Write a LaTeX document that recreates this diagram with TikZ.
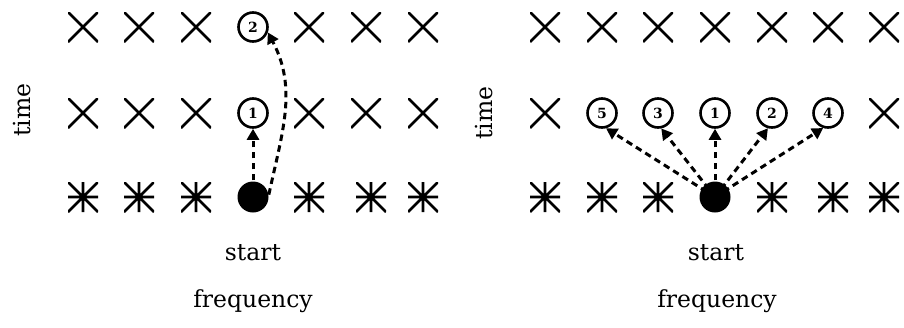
\documentclass[tikz,border=0pt]{standalone}
\usepackage{fontspec}
\setmainfont{DejaVu Serif}
\usetikzlibrary{arrows.meta}
\begin{document}
\begin{tikzpicture}[x=1pt,y=-1pt,
  mk/.style={minimum size=30pt,inner sep=0pt,outer sep=0pt},
  xmark/.style={mk,path picture={\draw[line width=2.8pt]
     (path picture bounding box.north west) -- (path picture bounding box.south east)
     (path picture bounding box.north east) -- (path picture bounding box.south west);}},
  amark/.style={mk,path picture={\draw[line width=2.8pt]
     (path picture bounding box.north west) -- (path picture bounding box.south east)
     (path picture bounding box.north east) -- (path picture bounding box.south west)
     (path picture bounding box.north) -- (path picture bounding box.south)
     (path picture bounding box.west) -- (path picture bounding box.east);}},
  num/.style={circle,draw,line width=2.6pt,minimum size=29pt,inner sep=0pt,font=\fontsize{14}{15}\selectfont\bfseries},
  startdot/.style={circle,fill,minimum size=31pt,inner sep=0pt},
  lbl/.style={font=\fontsize{23.5}{27}\selectfont},
  arr/.style={line width=3pt,dash pattern=on 6.5pt off 4.5pt,-{Triangle[length=11pt,width=12pt]},shorten >=0pt,shorten <=1pt},
  darr/.style={arr,shorten <=10pt}
]
\useasboundingbox (0,0) rectangle (904,327);
% ---------- left panel ----------
\foreach \x [count=\i] in {83,139,196} {
  \node[xmark] (La\i) at (\x,27) {};
  \node[xmark] (Lb\i) at (\x,113) {};
  \node[amark] (Lc\i) at (\x,197) {};
}
\foreach \x [count=\i from 5] in {309,366,423} {
  \node[xmark] (La\i) at (\x,27) {};
  \node[xmark] (Lb\i) at (\x,113) {};
}
\node[amark] (Lc5) at (309,197) {};
\node[amark] (Lc6) at (371,197) {};
\node[amark] (Lc7) at (423,197) {};
\node[num] (L2) at (253,27) {2};
\node[num] (L1) at (253,113) {1};
\node[startdot] (LS) at (253,197) {};
\draw[arr] (LS) -- (L1);
\draw[arr] (LS.5) to[out=78,in=-62] (L2.-20);
\node[lbl,rotate=90] (Ltime) at (22,110) {time};
\node[lbl] (Lstart) at (253,253) {start};
\node[lbl] (Lfreq) at (253,301) {frequency};
% ---------- right panel ----------
\foreach \x [count=\i] in {545,602,658,715,772,828,884} {
  \node[xmark] (Ra\i) at (\x,27) {};
}
\node[xmark] (Rb1) at (545,113) {};
\node[xmark] (Rb7) at (884,113) {};
\node[num] (R5) at (602,113) {5};
\node[num] (R3) at (658,113) {3};
\node[num] (R1) at (715,113) {1};
\node[num] (R2) at (772,113) {2};
\node[num] (R4) at (828,113) {4};
\node[amark] (Rc1) at (545,197) {};
\node[amark] (Rc2) at (602,197) {};
\node[amark] (Rc3) at (658,197) {};
\node[startdot] (RS) at (715,197) {};
\node[amark] (Rc5) at (772,197) {};
\node[amark] (Rc6) at (833,197) {};
\node[amark] (Rc7) at (884,197) {};
\draw[darr] (RS.center) -- (R5.-75);
\draw[darr] (RS.center) -- (R3.-78);
\draw[arr] (RS) -- (R1);
\draw[darr] (RS.center) -- (R2.-105);
\draw[darr] (RS.center) -- (R4.-108);
\node[lbl,rotate=90] (Rtime) at (484,113) {time};
\node[lbl] (Rstart) at (716,253) {start};
\node[lbl] (Rfreq) at (717,301) {frequency};
\end{tikzpicture}
\end{document}
